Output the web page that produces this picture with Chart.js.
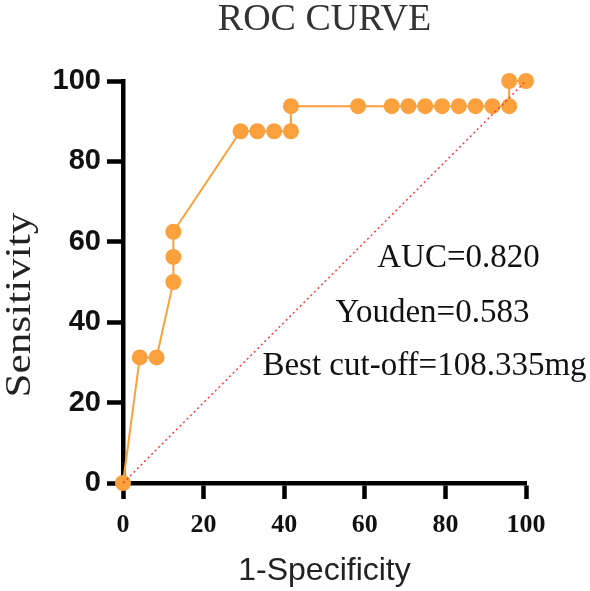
<!DOCTYPE html>
<html>
<head>
<meta charset="utf-8">
<script src="https://cdn.jsdelivr.net/npm/chart.js@4.4.1/dist/chart.umd.min.js"></script>
<style>
  html, body { margin: 0; padding: 0; background: #fff; }
</style>
</head>
<body>
<canvas id="roc" width="590" height="591"></canvas>
<script>
// ROC points (x = 1-Specificity %, y = Sensitivity %)
const oneMinusSpec = [0, 4.17, 8.33, 12.5, 12.5, 12.5, 29.17, 33.33, 37.5, 41.67, 41.67,
  58.33, 66.67, 70.83, 75, 79.17, 83.33, 87.5, 91.67, 95.83, 95.83, 100];
const sensitivity = [0, 31.25, 31.25, 50, 56.25, 62.5, 87.5, 87.5, 87.5, 87.5, 93.75,
  93.75, 93.75, 93.75, 93.75, 93.75, 93.75, 93.75, 93.75, 93.75, 100, 100];
// reference diagonal
const refX = [0, 100];
const refY = [0, 100];
const tickValues = [0, 20, 40, 60, 80, 100];

const chartTitle = 'ROC CURVE';
const xTitle = '1-Specificity';
const yTitle = 'Sensitivity';
const stats = ['AUC=0.820', 'Youden=0.583', 'Best cut-off=108.335mg'];

const ORANGE = 'rgb(250,160,60)';

// titles and AUC text
const textPlugin = {
  id: 'rocText',
  afterDraw(chart) {
    const { ctx, chartArea: a, scales: { x, y } } = chart;
    ctx.save();
    ctx.textBaseline = 'alphabetic';

    ctx.fillStyle = '#333';
    ctx.font = '38px "Liberation Serif"';
    ctx.textAlign = 'center';
    ctx.fillText(chartTitle, (a.left + a.right) / 2, 30);

    ctx.fillStyle = '#111';
    ctx.font = '33px "Liberation Serif"';
    ctx.textAlign = 'left';
    const spots = [[63.1, 53.7], [52.7, 40.0], [34.6, 26.9]];
    stats.forEach((t, i) => {
      ctx.fillText(t, x.getPixelForValue(spots[i][0]), y.getPixelForValue(spots[i][1]));
    });

    ctx.fillStyle = '#222';
    ctx.font = '32px "Liberation Sans"';
    ctx.textAlign = 'center';
    ctx.fillText(xTitle, (a.left + a.right) / 2, 580);

    ctx.translate(30, 305);
    ctx.rotate(-Math.PI / 2);
    ctx.scale(1.2, 1);
    ctx.font = '36px "Liberation Serif"';
    ctx.fillText(yTitle, 0, 0);
    ctx.restore();
  }
};

const axisCommon = {
  type: 'linear',
  min: 0,
  max: 100,
  afterBuildTicks: s => { s.ticks = tickValues.map(v => ({ value: v })); },
  grid: { drawOnChartArea: false, drawTicks: true, tickLength: 16, tickWidth: 4.5, tickColor: '#000' },
  border: { color: '#000', width: 4.5 },
};

new Chart(document.getElementById('roc'), {
  type: 'scatter',
  data: {
    datasets: [
      {
        data: refX.map((v, i) => ({ x: v, y: refY[i] })),
        showLine: true,
        borderColor: 'rgba(255,40,40,0.9)',
        borderWidth: 1.5,
        borderDash: [2, 3],
        pointRadius: 0,
        clip: false,
      },
      {
        data: oneMinusSpec.map((v, i) => ({ x: v, y: sensitivity[i] })),
        showLine: true,
        borderColor: ORANGE,
        borderWidth: 2,
        pointRadius: 8,
        pointBackgroundColor: ORANGE,
        pointBorderWidth: 0,
        clip: false,
      },
    ],
  },
  options: {
    responsive: false,
    animation: false,
    layout: { padding: { top: 81, right: 64, left: 0, bottom: 0 } },
    plugins: { legend: { display: false }, tooltip: { enabled: false } },
    scales: {
      x: {
        ...axisCommon,
        afterFit: s => { s.height = 108; },
        ticks: { color: '#111', padding: 11, font: { family: 'Liberation Serif', size: 26, weight: 'bold' } },
      },
      y: {
        ...axisCommon,
        afterFit: s => { s.width = 123; },
        ticks: { color: '#111', padding: 6, font: { family: 'Liberation Sans', size: 29, weight: 'bold' } },
      },
    },
  },
  plugins: [textPlugin],
});
</script>
</body>
</html>
